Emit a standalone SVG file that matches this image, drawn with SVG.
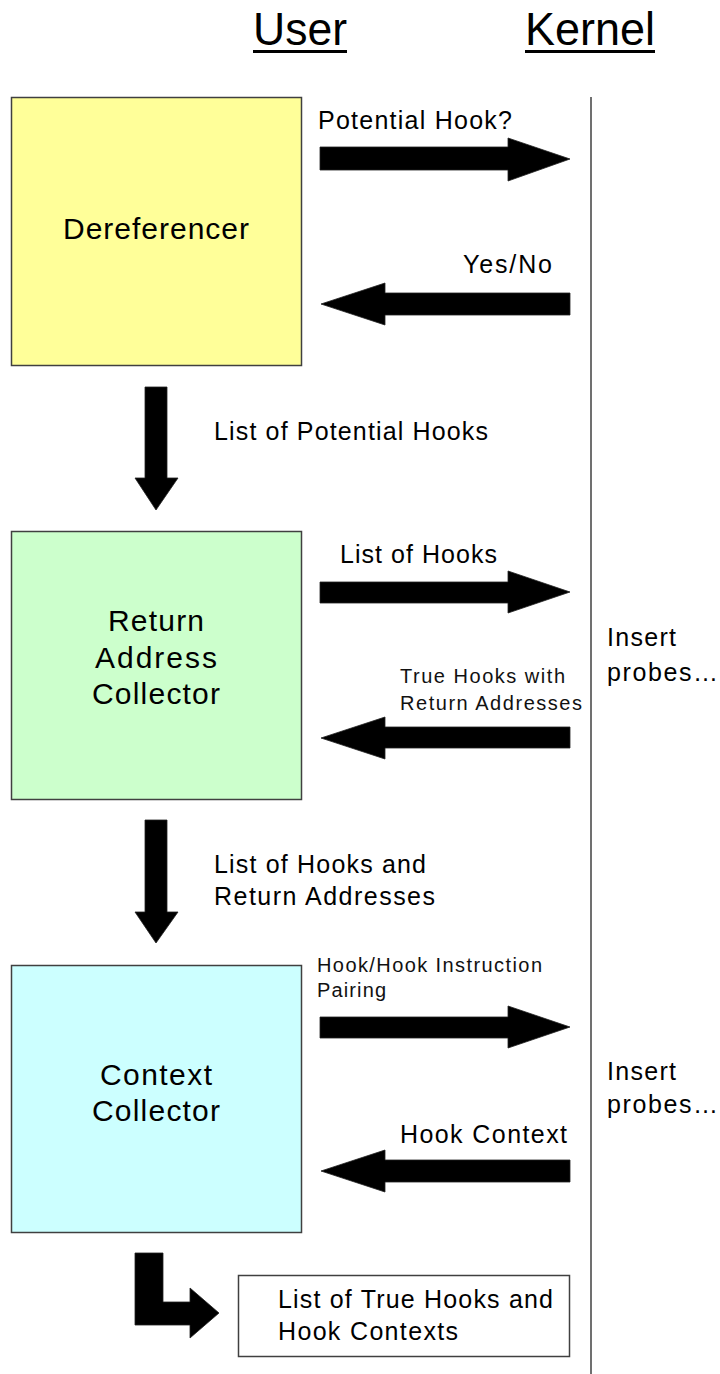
<svg xmlns="http://www.w3.org/2000/svg" width="720" height="1374" viewBox="0 0 720 1374">
  <style>
    text { font-family: "Liberation Sans", Arial, sans-serif; fill: #000; }
    .hdr { font-size: 46px; }
    .lbl { font-size: 25px; }
    .sm { font-size: 20px; fill: #111; }
    .node { font-size: 30px; text-anchor: middle; }
    .box { stroke: #404040; stroke-width: 1.5; }
    .arrow { fill: #000; stroke: #222; stroke-width: 0.8; stroke-linejoin: miter; }
  </style>
  <rect width="720" height="1374" fill="#fff"/>

  <!-- column headings -->
  <g id="headings">
    <text class="hdr" x="253" y="45" textLength="94" lengthAdjust="spacingAndGlyphs">User</text>
    <rect x="253" y="50" width="94" height="3" fill="#000"/>
    <text class="hdr" x="525" y="45" textLength="130" lengthAdjust="spacingAndGlyphs">Kernel</text>
    <rect x="525" y="50" width="130" height="3" fill="#000"/>
  </g>

  <!-- user / kernel boundary -->
  <line id="boundary" x1="591" y1="97" x2="591" y2="1374" stroke="#404040" stroke-width="1.5"/>

  <g id="dereferencer">
    <rect class="box" x="11.5" y="97.5" width="290" height="268" fill="#FFFF99"/>
    <text class="node" x="156" y="239" textLength="186" lengthAdjust="spacing">Dereferencer</text>
  </g>

  <g id="return-address-collector">
    <rect class="box" x="11.5" y="531.5" width="290" height="268" fill="#CCFFCC"/>
    <text class="node" x="156" y="631" textLength="96" lengthAdjust="spacing">Return</text>
    <text class="node" x="156" y="668" textLength="122" lengthAdjust="spacing">Address</text>
    <text class="node" x="156" y="704" textLength="128" lengthAdjust="spacing">Collector</text>
  </g>

  <g id="context-collector">
    <rect class="box" x="11.5" y="965.5" width="290" height="267" fill="#CCFFFF"/>
    <text class="node" x="156" y="1085" textLength="112" lengthAdjust="spacing">Context</text>
    <text class="node" x="156" y="1121" textLength="128" lengthAdjust="spacing">Collector</text>
  </g>

  <g id="result">
    <rect class="box" x="238.5" y="1275.5" width="331" height="81" fill="#fff"/>
    <text class="lbl" x="278" y="1308" textLength="275" lengthAdjust="spacing">List of True Hooks and</text>
    <text class="lbl" x="278" y="1340" textLength="180" lengthAdjust="spacing">Hook Contexts</text>
  </g>

  <!-- kernel side notes -->
  <g id="kernel-probes-1">
    <text class="lbl" x="607" y="646" textLength="69" lengthAdjust="spacing">Insert</text>
    <text class="lbl" x="607" y="681" textLength="111" lengthAdjust="spacing">probes…</text>
  </g>
  <g id="kernel-probes-2">
    <text class="lbl" x="607" y="1080" textLength="69" lengthAdjust="spacing">Insert</text>
    <text class="lbl" x="607" y="1113" textLength="111" lengthAdjust="spacing">probes…</text>
  </g>

  <g id="connectors">
    <!-- Dereferencer <-> kernel -->
    <polygon class="arrow" points="320,147 508,147 508,138 570,159 508,181 508,170 320,170"/>
    <text class="lbl" x="318" y="129" textLength="194" lengthAdjust="spacing">Potential Hook?</text>
    <polygon class="arrow" points="321,304 385,283 385,293 570,293 570,315 385,315 385,325"/>
    <text class="lbl" x="463" y="273" textLength="89" lengthAdjust="spacing">Yes/No</text>

    <!-- Dereferencer -> Return Address Collector -->
    <polygon class="arrow" points="145,387 167,387 167,478 178,478 156,510 135,478 145,478"/>
    <text class="lbl" x="214" y="440" textLength="274" lengthAdjust="spacing">List of Potential Hooks</text>

    <!-- Return Address Collector <-> kernel -->
    <polygon class="arrow" points="320,582 508,582 508,571 570,592 508,613 508,603 320,603"/>
    <text class="lbl" x="340" y="563" textLength="157" lengthAdjust="spacing">List of Hooks</text>
    <polygon class="arrow" points="321,738 385,717 385,727 570,727 570,748 385,748 385,759"/>
    <text class="sm" x="400" y="683" textLength="165" lengthAdjust="spacing">True Hooks with</text>
    <text class="sm" x="400" y="710" textLength="182" lengthAdjust="spacing">Return Addresses</text>

    <!-- Return Address Collector -> Context Collector -->
    <polygon class="arrow" points="145,820 167,820 167,912 178,912 156,943 135,912 145,912"/>
    <text class="lbl" x="214" y="873" textLength="212" lengthAdjust="spacing">List of Hooks and</text>
    <text class="lbl" x="214" y="905" textLength="221" lengthAdjust="spacing">Return Addresses</text>

    <!-- Context Collector <-> kernel -->
    <polygon class="arrow" points="320,1017 508,1017 508,1006 570,1027 508,1048 508,1038 320,1038"/>
    <text class="sm" x="317" y="972" textLength="225" lengthAdjust="spacing">Hook/Hook Instruction</text>
    <text class="sm" x="317" y="997" textLength="69" lengthAdjust="spacing">Pairing</text>
    <polygon class="arrow" points="321,1171 385,1150 385,1160 570,1160 570,1182 385,1182 385,1192"/>
    <text class="lbl" x="400" y="1143" textLength="167" lengthAdjust="spacing">Hook Context</text>

    <!-- Context Collector -> result -->
    <polygon class="arrow" points="135,1253 163,1253 163,1302 190,1302 190,1288 219,1313 190,1338 190,1325 135,1325"/>
  </g>
</svg>
